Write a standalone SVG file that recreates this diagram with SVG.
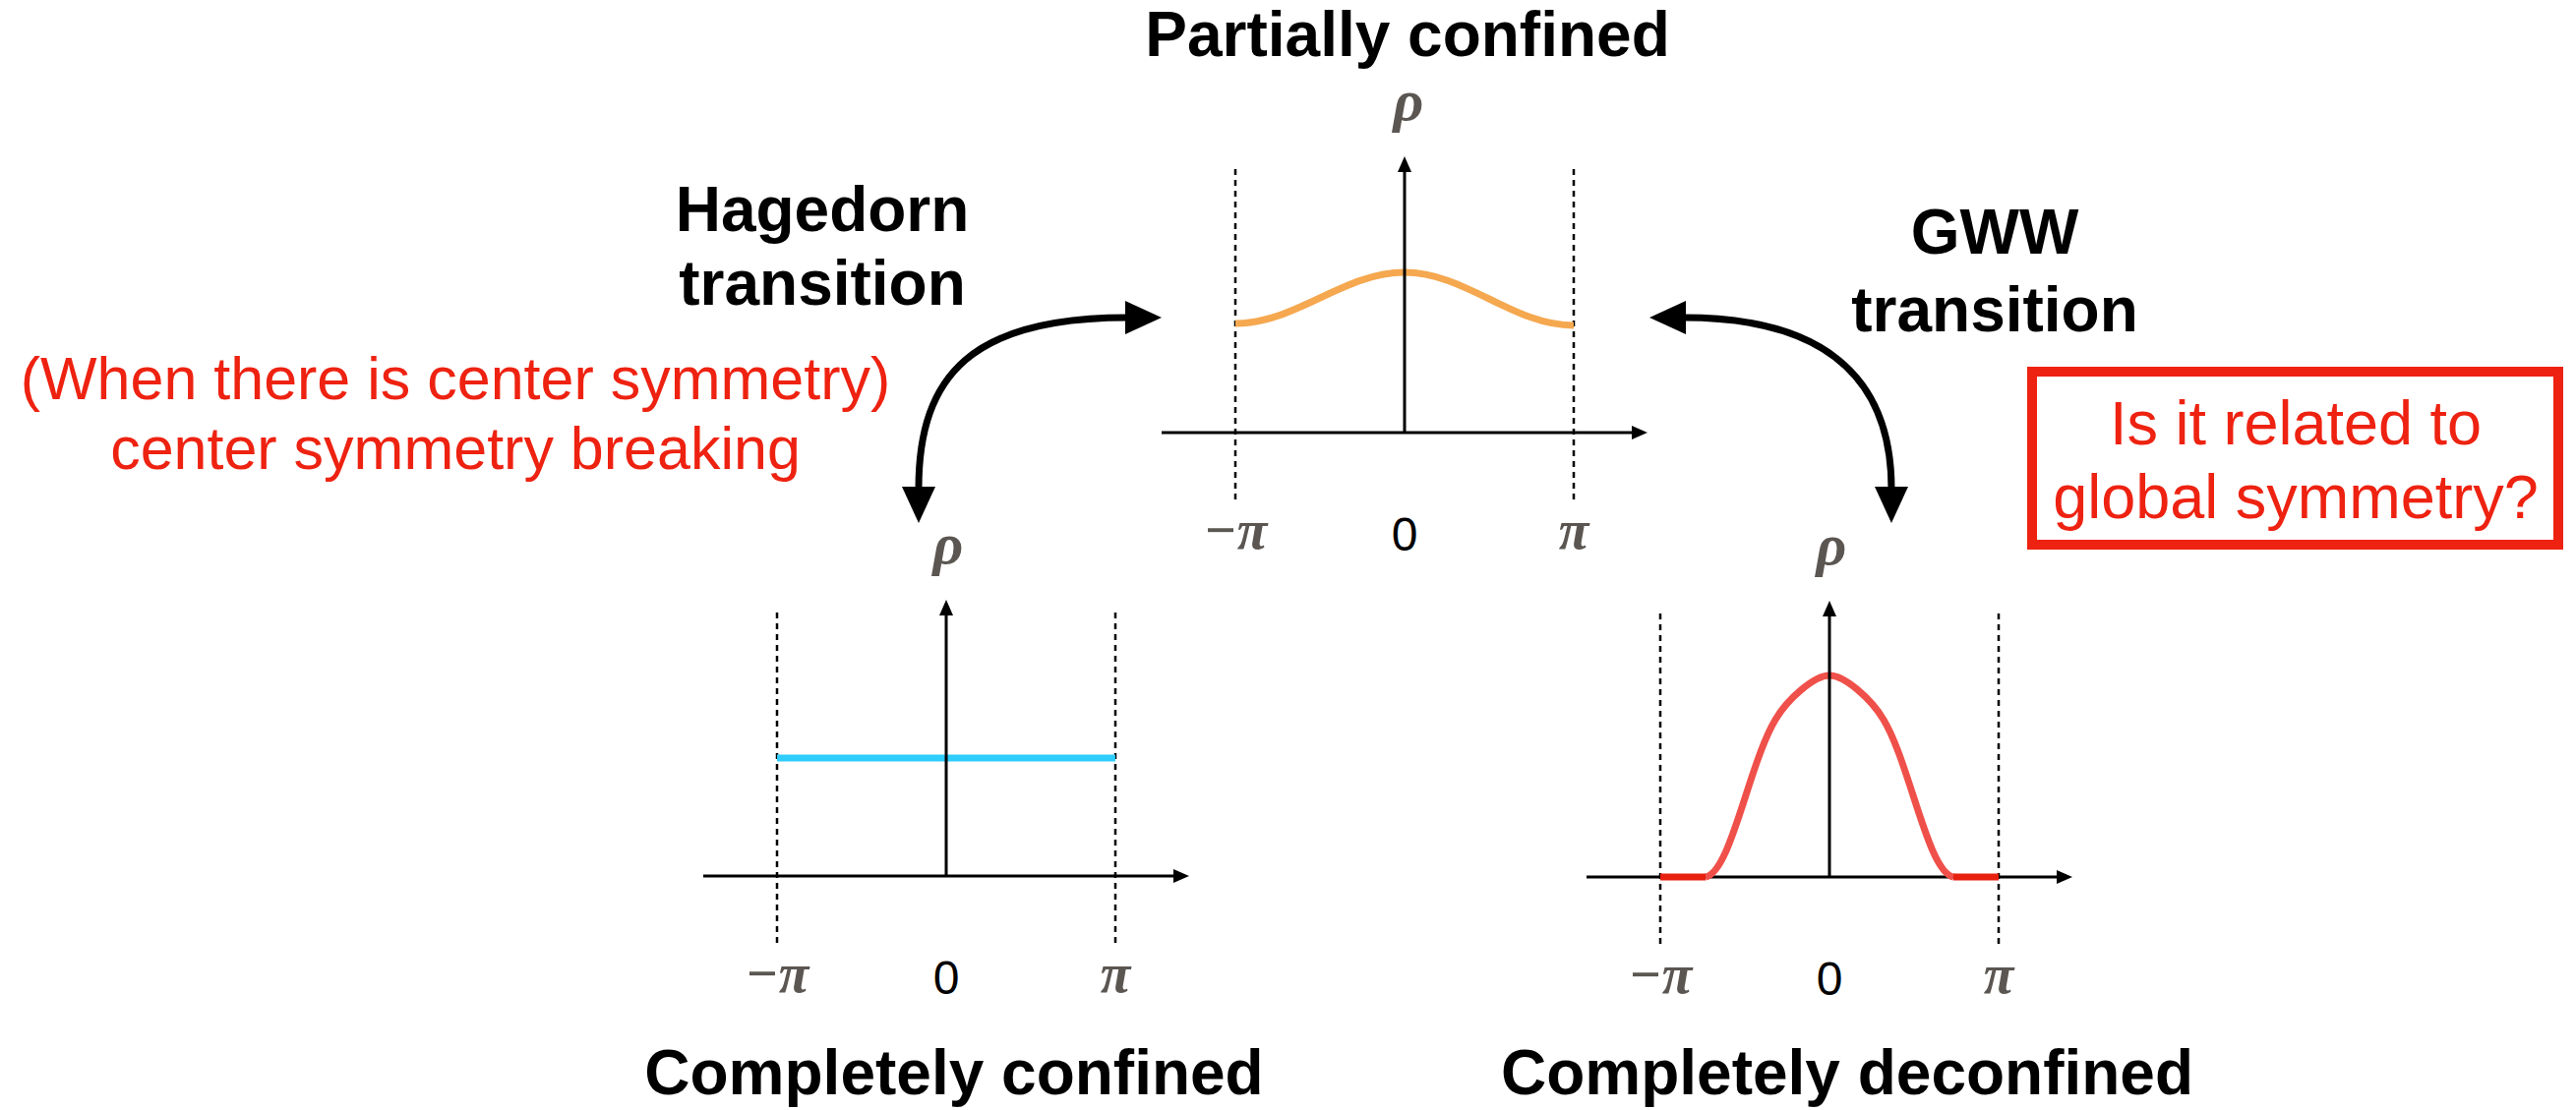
<svg xmlns="http://www.w3.org/2000/svg" width="2619" height="1129" viewBox="0 0 2619 1129">
<style>
.title{font-family:"Liberation Sans",Arial,sans-serif;font-weight:bold;font-size:64px;fill:#000;text-anchor:middle}
.red{font-family:"Liberation Sans",Arial,sans-serif;font-size:61px;fill:#ee2211;text-anchor:middle}
.redbox{font-family:"Liberation Sans",Arial,sans-serif;font-size:63px;fill:#ee2211;text-anchor:middle}
.math{font-family:"Liberation Serif","Times New Roman",serif;font-style:italic;font-weight:bold;font-size:56px;fill:#5b5651;text-anchor:middle}
.rho{font-family:"Liberation Serif","Times New Roman",serif;font-style:italic;font-weight:bold;font-size:60px;fill:#5b5651;text-anchor:middle}
.zero{font-family:"Liberation Sans",Arial,sans-serif;font-size:48px;fill:#000;text-anchor:middle}
.axis{stroke:#000;stroke-width:3;fill:none}
.dash{stroke:#000;stroke-width:2.5;stroke-dasharray:6 5;fill:none}
.head{fill:#000}
.big{stroke:#000;stroke-width:7;fill:none;marker-start:url(#bigHead);marker-end:url(#bigHead)}
</style>
<defs>
<marker id="bigHead" markerUnits="userSpaceOnUse" viewBox="0 0 40 36" markerWidth="40" markerHeight="36" refX="2" refY="18" orient="auto-start-reverse">
<path d="M0,1 L37,18 L0,35 z" fill="#000"/>
</marker>
</defs>
<rect width="2619" height="1129" fill="#fff"/>

<g id="title-partially">
<text class="title" x="1431" y="57">Partially confined</text>
</g>

<g id="chart-partial" transform="translate(1428,440)">
<line class="axis" x1="-247" y1="0" x2="233" y2="0"/>
<polygon class="head" points="247,0 231,-7 231,7"/>
<line class="dash" x1="-172" y1="-268" x2="-172" y2="69"/>
<line class="dash" x1="172" y1="-268" x2="172" y2="69"/>
<path d="M-172,-111 C-110,-111 -62,-163 0,-163 C62,-163 110,-109 172,-109" stroke="#f5a84f" stroke-width="7" fill="none"/>
<line class="axis" x1="0" y1="0" x2="0" y2="-266"/>
<polygon class="head" points="0,-281 -7,-265 7,-265"/>
<text class="rho" x="4" y="-318">ρ</text>
<text class="math" x="-172" y="118">−π</text>
<text class="zero" x="0" y="120">0</text>
<text class="math" x="172" y="118">π</text>
</g>

<g id="chart-confined" transform="translate(962,891)">
<line class="axis" x1="-247" y1="0" x2="233" y2="0"/>
<polygon class="head" points="247,0 231,-7 231,7"/>
<line class="dash" x1="-172" y1="-268" x2="-172" y2="69"/>
<line class="dash" x1="172" y1="-268" x2="172" y2="69"/>
<line x1="-172" y1="-120" x2="172" y2="-120" stroke="#2fcdfc" stroke-width="7"/>
<line class="axis" x1="0" y1="0" x2="0" y2="-266"/>
<polygon class="head" points="0,-281 -7,-265 7,-265"/>
<text class="rho" x="2" y="-318">ρ</text>
<text class="math" x="-172" y="118">−π</text>
<text class="zero" x="0" y="120">0</text>
<text class="math" x="172" y="118">π</text>
<text class="title" x="8" y="222">Completely confined</text>
</g>

<g id="chart-deconfined" transform="translate(1860,892)">
<line class="axis" x1="-247" y1="0" x2="233" y2="0"/>
<polygon class="head" points="247,0 231,-7 231,7"/>
<line class="dash" x1="-172" y1="-268" x2="-172" y2="69"/>
<line class="dash" x1="172" y1="-268" x2="172" y2="69"/>
<path d="M-126,0 C-100,-5 -82,-115 -55,-160 C-42,-182 -15,-205 0,-205 C15,-205 42,-182 55,-160 C82,-115 100,-5 126,0" stroke="#f0504a" stroke-width="7" fill="none"/>
<line x1="-172" y1="0" x2="-126" y2="0" stroke="#e8200f" stroke-width="7"/>
<line x1="126" y1="0" x2="172" y2="0" stroke="#e8200f" stroke-width="7"/>
<line class="axis" x1="0" y1="0" x2="0" y2="-266"/>
<polygon class="head" points="0,-281 -7,-265 7,-265"/>
<text class="rho" x="2" y="-318">ρ</text>
<text class="math" x="-172" y="118">−π</text>
<text class="zero" x="0" y="120">0</text>
<text class="math" x="172" y="118">π</text>
<text class="title" x="18" y="221">Completely deconfined</text>
</g>

<g id="label-hagedorn">
<text class="title" x="836" y="235">Hagedorn</text>
<text class="title" x="836" y="310">transition</text>
</g>

<g id="label-gww">
<text class="title" x="2028" y="258">GWW</text>
<text class="title" x="2028" y="337">transition</text>
</g>

<g id="note-center">
<text class="red" x="463" y="406">(When there is center symmetry)</text>
<text class="red" x="463" y="477">center symmetry breaking</text>
</g>

<g id="note-global">
<rect x="2066" y="378" width="535" height="176" fill="none" stroke="#ee2211" stroke-width="10"/>
<text class="redbox" x="2334" y="452">Is it related to</text>
<text class="redbox" x="2334" y="527">global symmetry?</text>
</g>

<g id="connectors">
<path class="big" d="M934,497 C934,380 990,323 1146,323"/>
<path class="big" d="M1712,323 C1850,323 1923,380 1923,497"/>
</g>
</svg>
